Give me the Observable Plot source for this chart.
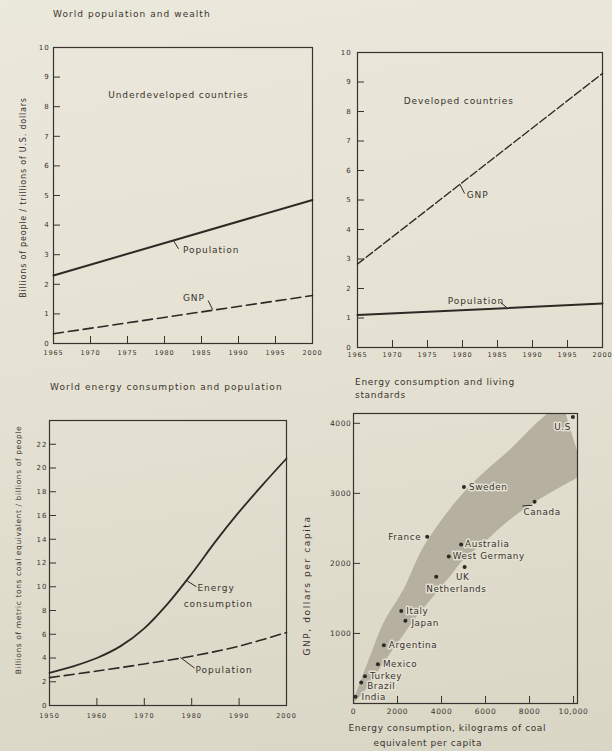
<!DOCTYPE html>
<html><head><meta charset="utf-8">
<script src="https://cdn.jsdelivr.net/npm/d3@7"></script>
<script src="https://cdn.jsdelivr.net/npm/@observablehq/plot@0.6"></script>
<style>
html,body{margin:0;padding:0;}
body{width:612px;height:751px;overflow:hidden;background:linear-gradient(172deg,#ebe8dc 0%,#e4e0d1 55%,#dad6c5 100%);font-family:"DejaVu Sans",sans-serif;color:#3a352f;}
#wrap{position:relative;width:612px;height:751px;}
.title{position:absolute;white-space:nowrap;line-height:1;}
</style></head><body><div id="wrap"></div>
<script>
// ---------- data ----------
const years1 = [1965, 2000];
const undevPopulation = [2.3, 4.85];
const undevGNP = [0.33, 1.62];
const devPopulation = [1.10, 1.49];
const devGNP = [2.83, 9.29];

const energyYears = [1950, 1955, 1960, 1965, 1970, 1975, 1980, 1985, 1990, 1995, 2000];
const energyConsumption = [2.75, 3.3, 4.0, 5.0, 6.5, 8.6, 11.1, 13.8, 16.3, 18.6, 20.8];
const popYears = [1950, 1960, 1970, 1980, 1990, 2000];
const worldPopulation = [2.35, 2.9, 3.5, 4.15, 5.0, 6.15];

const countries = ["U.S", "Sweden", "Canada", "France", "Australia", "West Germany", "UK", "Netherlands", "Italy", "Japan", "Argentina", "Mexico", "Turkey", "Brazil", "India"];
const energyPerCapita = [9970, 5020, 8230, 3350, 4890, 4330, 5050, 3760, 2170, 2360, 1380, 1110, 520, 350, 90];
const gnpPerCapita = [4090, 3090, 2880, 2380, 2270, 2100, 1950, 1810, 1320, 1180, 830, 560, 390, 300, 95];

const bandUpperX = [0, 91, 773, 1379, 2288, 3045, 3500, 4258, 5015, 5924, 7136, 8348, 9500];
const bandUpperY = [0, 95, 666, 1143, 1619, 2143, 2380, 2714, 3000, 3286, 3619, 4000, 4300];
const bandLowerX = [0, 318, 773, 1379, 2136, 2894, 3652, 4409, 5015, 5924, 7136, 8197, 10500];
const bandLowerY = [0, 95, 286, 571, 905, 1238, 1524, 1809, 2047, 2286, 2619, 2857, 3270];

const ticksYear5 = [1965, 1970, 1975, 1980, 1985, 1990, 1995, 2000];
const ticks0to10 = [0, 1, 2, 3, 4, 5, 6, 7, 8, 9, 10];
const ticksYear10 = [1950, 1960, 1970, 1980, 1990, 2000];
const ticks0to22 = [0, 2, 4, 6, 8, 10, 12, 14, 16, 18, 20, 22];
const ticksEnergy = [0, 2000, 4000, 6000, 8000, 10000];
const energyTickLabels = ["0", "2000", "4000", "6000", "8000", "10,000"];
const ticksGNP = [1000, 2000, 3000, 4000];

// annotation texts (positions in data units)
const p1Notes = [{t: "Underdeveloped countries", x: 1972.4, y: 8.38}, {t: "Population", x: 1982.5, y: 3.14}, {t: "GNP", x: 1982.5, y: 1.52}];
const p1Leaders = [{x1: 1981.2, y1: 3.48, x2: 1981.9, y2: 3.2}, {x1: 1985.9, y1: 1.45, x2: 1986.5, y2: 1.15}];
const p2Notes = [{t: "Developed countries", x: 1971.6, y: 8.34}, {t: "GNP", x: 1980.6, y: 5.15}, {t: "Population", x: 1977.9, y: 1.56}];
const p2Leaders = [{x1: 1979.6, y1: 5.55, x2: 1980.3, y2: 5.22}, {x1: 1985.4, y1: 1.53, x2: 1986.3, y2: 1.36}];
const p3Notes = [{t: "Energy", x: 1981.2, y: 9.87}, {t: "consumption", x: 1978.3, y: 8.5}, {t: "Population", x: 1980.8, y: 2.95}];
const p3Leaders = [{x1: 1979.0, y1: 10.5, x2: 1981.0, y2: 10.0}, {x1: 1977.6, y1: 4.05, x2: 1980.6, y2: 3.15}];
const labelAnchor = ["end", "start", "start", "end", "start", "start", "middle", "start", "start", "start", "start", "start", "start", "start", "start"];
const labelDx = [-2, 5, -11, -6, 4, 4, -2, -10, 5, 6, 5, 5, 5, 6, 6];
const labelDy = [10, 0, 10, 0, 0, 0, 10, 12, 0, 2, 0, 0, 0, 4, 0];

// ---------- drawing ----------
const ink = "#38332e";
const lineInk = "#2e2925";
const halo = "#e4e0d1";
const wrap = document.getElementById("wrap");
function place(node, left, top) {
  node.style.position = "absolute"; node.style.left = left + "px"; node.style.top = top + "px";
  wrap.appendChild(node);
}
function addTitle(str, left, top, size, spacing) {
  const d = document.createElement("div");
  d.className = "title"; d.textContent = str;
  d.style.fontSize = size + "px"; d.style.letterSpacing = spacing + "px";
  place(d, left, top);
}
function spacing(svg, base, extra) {
  svg.style.letterSpacing = base;
  d3.select(svg).selectAll("text").each(function () {
    const k = this.textContent;
    if (extra && extra[k]) this.setAttribute("letter-spacing", extra[k]);
  });
  return svg;
}
const baseStyle = {background: "transparent", color: ink, fontFamily: "DejaVu Sans", fontSize: "7px", overflow: "visible"};

// Panel 1
const undev = years1.map((year, i) => ({year, population: undevPopulation[i], gnp: undevGNP[i]}));
const p1 = Plot.plot({
  width: 330, height: 370, marginLeft: 53, marginRight: 18, marginTop: 47, marginBottom: 27,
  x: {domain: [1965, 2000]}, y: {domain: [0, 10]},
  style: baseStyle,
  marks: [
    Plot.frame({stroke: ink, strokeWidth: 1.2}),
    Plot.axisX({ticks: ticksYear5, tickSize: -7, tickPadding: 13.5, tickFormat: d => String(d), label: null, fontSize: 6.5, stroke: ink}),
    Plot.axisY({ticks: ticks0to10, tickSize: -7, tickPadding: 11, label: null, fontSize: 7, stroke: ink}),
    Plot.line(undev, {x: "year", y: "population", stroke: lineInk, strokeWidth: 2}),
    Plot.line(undev, {x: "year", y: "gnp", stroke: lineInk, strokeWidth: 1.6, strokeDasharray: "10,5"}),
    Plot.link(p1Leaders, {x1: "x1", y1: "y1", x2: "x2", y2: "y2", stroke: lineInk, strokeWidth: 1}),
    Plot.text(p1Notes, {x: "x", y: "y", text: "t", textAnchor: "start", fontSize: 9, fill: ink}),
    Plot.text(["Billions of people / trillions of U.S. dollars"], {text: d => d, frameAnchor: "left", textAnchor: "middle", rotate: -90, dx: -30, dy: 2, fontSize: 8, fill: ink})
  ]
});
place(spacing(p1, "0.9px", {"Billions of people / trillions of U.S. dollars": "0.8px"}), 0, 0);

// Panel 2
const dev = years1.map((year, i) => ({year, population: devPopulation[i], gnp: devGNP[i]}));
const p2 = Plot.plot({
  width: 282, height: 370, marginLeft: 27, marginRight: 10, marginTop: 52, marginBottom: 23,
  x: {domain: [1965, 2000]}, y: {domain: [0, 10]},
  style: baseStyle,
  marks: [
    Plot.frame({stroke: ink, strokeWidth: 1.2}),
    Plot.axisX({ticks: ticksYear5, tickSize: -7, tickPadding: 11.5, tickFormat: d => String(d), label: null, fontSize: 6.5, stroke: ink}),
    Plot.axisY({ticks: ticks0to10, tickSize: -7, tickPadding: 13, label: null, fontSize: 7, stroke: ink}),
    Plot.line(dev, {x: "year", y: "population", stroke: lineInk, strokeWidth: 2}),
    Plot.line(dev, {x: "year", y: "gnp", stroke: lineInk, strokeWidth: 1.4, strokeDasharray: "8,3"}),
    Plot.link(p2Leaders, {x1: "x1", y1: "y1", x2: "x2", y2: "y2", stroke: lineInk, strokeWidth: 1}),
    Plot.text(p2Notes, {x: "x", y: "y", text: "t", textAnchor: "start", fontSize: 9, fill: ink})
  ]
});
place(spacing(p2, "0.9px"), 330, 0);

// Panel 3
const energy = energyYears.map((year, i) => ({year, value: energyConsumption[i]}));
const pop = popYears.map((year, i) => ({year, value: worldPopulation[i]}));
const p3 = Plot.plot({
  width: 295, height: 381, marginLeft: 49, marginRight: 9, marginTop: 50, marginBottom: 46,
  x: {domain: [1950, 2000]}, y: {domain: [0, 24]},
  style: baseStyle,
  marks: [
    Plot.frame({stroke: ink, strokeWidth: 1.2}),
    Plot.axisX({ticks: ticksYear10, tickSize: -7, tickPadding: 15, tickFormat: d => String(d), label: null, fontSize: 6.5, stroke: ink}),
    Plot.axisY({ticks: ticks0to22, tickSize: -7, tickPadding: 9, label: null, fontSize: 7, stroke: ink}),
    Plot.line(energy, {x: "year", y: "value", curve: "catmull-rom", stroke: lineInk, strokeWidth: 1.8}),
    Plot.line(pop, {x: "year", y: "value", curve: "catmull-rom", stroke: lineInk, strokeWidth: 1.6, strokeDasharray: "10,5"}),
    Plot.link(p3Leaders, {x1: "x1", y1: "y1", x2: "x2", y2: "y2", stroke: lineInk, strokeWidth: 1}),
    Plot.text(p3Notes, {x: "x", y: "y", text: "t", textAnchor: "start", fontSize: 9, fill: ink}),
    Plot.text(["Billions of metric tons coal equivalent / billions of people"], {text: d => d, frameAnchor: "left", textAnchor: "middle", rotate: -90, dx: -31, dy: -13, fontSize: 7.5, fill: ink})
  ]
});
place(spacing(p3, "1px", {"Billions of metric tons coal equivalent / billions of people": "0.6px"}), 0, 370);

// Panel 4
const band = bandUpperX.map((ux, i) => ({ux, uy: bandUpperY[i], lx: bandLowerX[i], ly: bandLowerY[i]}));
const nations = countries.map((name, i) => ({name, energy: energyPerCapita[i], gnp: gnpPerCapita[i], anchor: labelAnchor[i], dx: labelDx[i], dy: labelDy[i]}));
const canadaLeader = [{x1: 7670, y1: 2820, x2: 8130, y2: 2830}];
const p4 = Plot.plot({
  width: 317, height: 381, marginLeft: 58, marginRight: 35, marginTop: 43, marginBottom: 48,
  x: {domain: [0, 10180]}, y: {domain: [0, 4140]},
  style: baseStyle,
  marks: [
    Plot.area(band, {x1: "lx", y1: "ly", x2: "ux", y2: "uy", curve: "catmull-rom", fill: "#b5b0a0", clip: true}),
    Plot.frame({stroke: ink, strokeWidth: 1.2}),
    Plot.axisX({ticks: ticksEnergy, tickSize: -7, tickPadding: 12, tickFormat: d => energyTickLabels[ticksEnergy.indexOf(d)], label: null, fontSize: 7.5, stroke: ink}),
    Plot.axisY({ticks: ticksGNP, tickSize: -7, tickPadding: 9, tickFormat: d => String(d), label: null, fontSize: 7.5, stroke: ink}),
    Plot.link(canadaLeader, {x1: "x1", y1: "y1", x2: "x2", y2: "y2", stroke: lineInk, strokeWidth: 1}),
    ...["start", "end", "middle"].map(a => Plot.text(nations.filter(d => d.anchor === a), {
      x: "energy", y: "gnp", text: "name", textAnchor: a,
      fontSize: 8.8, fill: ink, stroke: halo, strokeWidth: 3
    })),
    Plot.dot(nations, {x: "energy", y: "gnp", r: 2, fill: lineInk}),
    Plot.text(["GNP, dollars per capita"], {text: d => d, frameAnchor: "left", textAnchor: "middle", rotate: -90, dx: -46, dy: 27, fontSize: 9, fill: ink}),
    Plot.text(["Energy consumption, kilograms of coal"], {text: d => d, frameAnchor: "bottom-left", textAnchor: "start", dx: -5, dy: 27, fontSize: 9, fill: ink}),
    Plot.text(["equivalent per capita"], {text: d => d, frameAnchor: "bottom-left", textAnchor: "start", dx: 20, dy: 42, fontSize: 9, fill: ink})
  ]
});
// shift country labels by their per-label offsets
d3.select(p4).selectAll("text").each(function () {
  const n = nations.find(d => d.name === this.textContent);
  if (n && this.closest("g[aria-label='text']")) {
    const tr = this.getAttribute("transform") || "";
    this.setAttribute("transform", tr + ` translate(${n.dx},${n.dy})`);
  }
});
place(spacing(p4, "0.6px", {"GNP, dollars per capita": "1.6px"}), 295, 370);

// titles
addTitle("World population and wealth", 53, 10, 9, 1.05);
addTitle("World energy consumption and population", 50, 383, 9, 1.05);
addTitle("Energy consumption and living", 355, 378, 9, 0.7);
addTitle("standards", 355, 391, 9, 0.7);
</script>
</body></html>
